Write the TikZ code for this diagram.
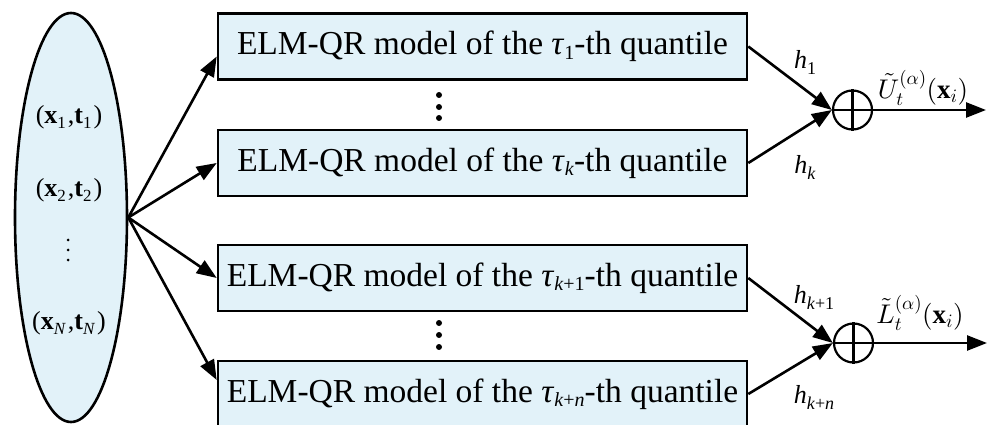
\documentclass[tikz,border=0pt]{standalone}
\usepackage{fontspec}
\setmainfont{Liberation Serif}
\DeclareFontShape{OML}{cmm}{m}{it}{<->cmmi10}{}
\DeclareFontShape{OMS}{cmsy}{m}{n}{<->cmsy10}{}
\DeclareFontShape{OMX}{cmex}{m}{n}{<->cmex10}{}
\DeclareFontShape{OT1}{cmr}{m}{n}{<->cmr10}{}
\DeclareFontShape{OT1}{cmr}{bx}{n}{<->cmbx10}{}
\usetikzlibrary{arrows.meta,calc,shapes.geometric}
\definecolor{boxblue}{RGB}{226,242,249}
\newcommand\tsub[1]{\raisebox{-0.28ex}{\fontsize{20}{20}\selectfont #1}}
\newcommand\tq[1]{\textit{τ}\tsub{#1}}
\newcommand\psub[1]{\raisebox{-0.45ex}{\fontsize{17}{17}\selectfont #1}\hspace{2pt}}
\newcommand\hsub[1]{\raisebox{-0.5ex}{\fontsize{18}{18}\selectfont #1}}
\begin{document}
\begin{tikzpicture}[x=1pt,y=-1pt,line width=2.6pt,
  model/.style={draw,fill=boxblue,minimum width=529pt,minimum height=66pt,inner sep=0pt,font=\fontsize{33.5}{36}\selectfont},
  arr/.style={-{Triangle[length=20pt,width=15pt]}},
  summer/.style={draw,circle,minimum size=39pt,inner sep=0pt,line width=2.2pt},
  pair/.style={font=\fontsize{26}{28}\selectfont,inner sep=0pt},
  wlab/.style={font=\fontsize{26}{28}\selectfont,inner sep=0pt},
  olab/.style={font=\fontsize{27}{29}\selectfont,inner sep=0pt}]
\useasboundingbox (0,0) rectangle (989,425);
% input ellipse
\node[ellipse,draw,fill=boxblue,minimum width=112pt,minimum height=409pt,inner sep=0pt] (E) at (71,217.5) {};
\node[pair] (p1) at (69,117) {(\textbf{x}\psub{1},\textbf{t}\psub{1})};
\node[pair] (p2) at (69,190) {(\textbf{x}\psub{2},\textbf{t}\psub{2})};
\node[pair] (pN) at (69,323) {(\textbf{x}\psub{\textit{N}},\textbf{t}\psub{\textit{N}})};
\foreach \yy in {240,250,260} \fill (68,\yy) circle (1.5pt);
% model boxes
\node[model] (b1) at (482.5,46.5) {ELM-QR model of the \tq{1}-th quantile};
\node[model] (b2) at (482.5,163) {ELM-QR model of the \tq{\textit{k}}-th quantile};
\node[model] (b3) at (482.5,278) {ELM-QR model of the \tq{\textit{k}+1}-th quantile};
\node[model] (b4) at (482.5,394) {ELM-QR model of the \tq{\textit{k}+\textit{n}}-th quantile};
\foreach \yy in {95,107,118} \fill (439,\yy) circle (3pt);
\foreach \yy in {323,335,347} \fill (439,\yy) circle (3pt);
% arrows from ellipse
\draw[arr] (E.east) -- ($(b1.west)+(0,10)$);
\draw[arr] (E.east) -- (b2.west);
\draw[arr] (E.east) -- (b3.west);
\draw[arr] (E.east) -- ($(b4.west)+(0,-14)$);
% summing junctions
\node[summer] (s1) at (852.5,110) {};
\node[summer] (s2) at (853.5,343) {};
\foreach \s in {s1,s2} {
  \draw[line width=2.2pt] (\s.north) -- (\s.south);
  \draw[line width=2.2pt] (\s.west) -- (\s.east);
}
\draw[arr] (b1.east) -- (s1.west);
\draw[arr] (b2.east) -- (s1.west);
\draw[arr] (b3.east) -- (s2.west);
\draw[arr] (b4.east) -- (s2.west);
\coordinate (o1) at (986,110);
\coordinate (o2) at (987,343);
\draw[arr] (s1.east) -- (o1);
\draw[arr] (s2.east) -- (o2);
% labels
\node[wlab] (h1) at (805,62) {\textit{h}\hsub{1}};
\node[wlab] (hk) at (805,167) {\textit{h}\hsub{\textit{k}}};
\node[wlab] (hk1) at (814,297) {\textit{h}\hsub{\textit{k}+1}};
\node[wlab] (hkn) at (814,397) {\textit{h}\hsub{\textit{k}+\textit{n}}};
\node[olab] (U) at (923,88) {$\tilde{U}_t^{(\alpha)}(\mathbf{x}_i)$};
\node[olab] (L) at (920,313) {$\tilde{L}_t^{(\alpha)}(\mathbf{x}_i)$};
\end{tikzpicture}
\end{document}
